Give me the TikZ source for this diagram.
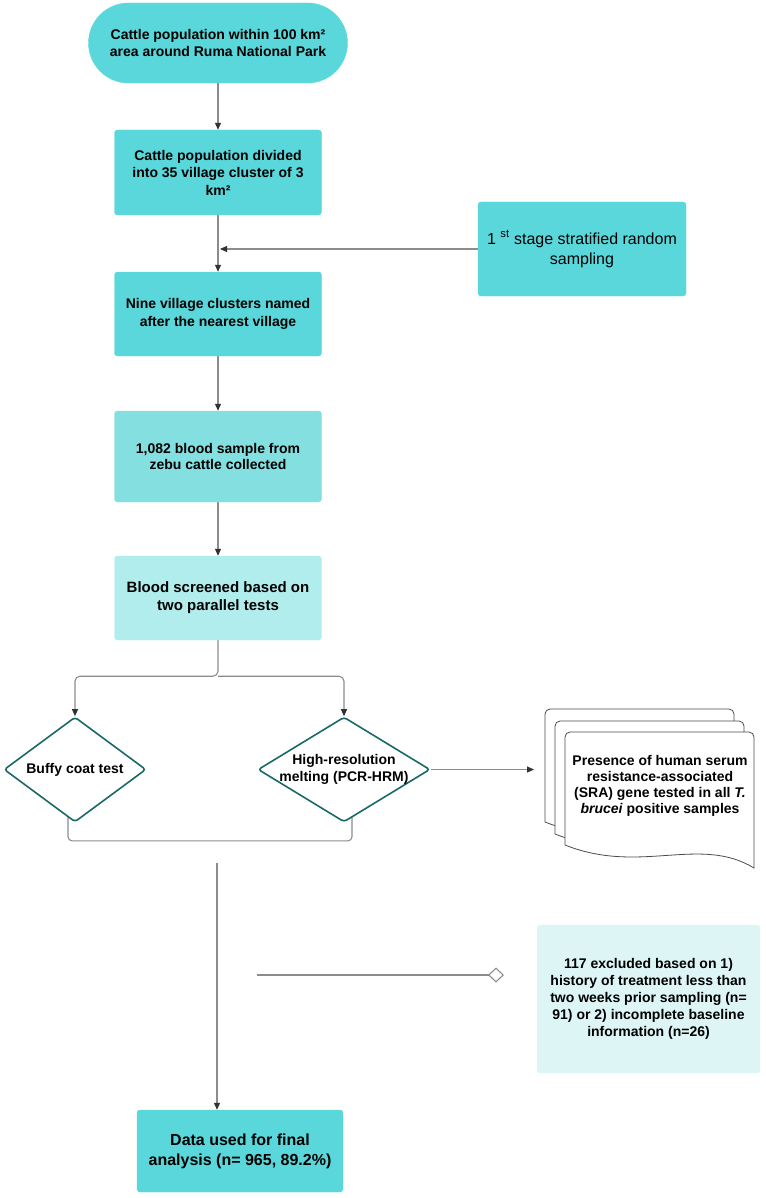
\documentclass[tikz,border=0pt]{standalone}
\usepackage{fontspec}
\setmainfont{Liberation Sans}
\usetikzlibrary{shapes.geometric,arrows.meta,calc,backgrounds}
\definecolor{tealA}{RGB}{90,215,218}
\definecolor{tealB}{RGB}{132,224,224}
\definecolor{tealC}{RGB}{178,237,237}
\definecolor{tealD}{RGB}{221,245,245}
\definecolor{dteal}{RGB}{25,105,105}
\definecolor{linegray}{RGB}{140,140,140}
\definecolor{tipgray}{RGB}{50,50,50}
\begin{document}
\begin{tikzpicture}[x=1pt,y=-1pt,
  conn/.style={draw=linegray, line width=1.1pt},
  arr/.style={conn, -{Triangle[length=7pt,width=6pt,color=tipgray]}},
  box/.style={rectangle, rounded corners=3pt, fill=tealA, draw=tealA, align=center,
    font=\bfseries\fontsize{14}{17.5}\selectfont, inner sep=3pt, anchor=center},
  dia/.style={diamond, draw=dteal, line width=1.6pt, fill=white, rounded corners=3pt,
    inner sep=0pt, anchor=center},
  dialabel/.style={label={[align=center, font=\bfseries\fontsize{14}{17}\selectfont]center:#1}},
  docpage/.style={draw=black!70, line width=0.8pt, fill=white},
]
\useasboundingbox (0,0) rectangle (765,1198);

\node[box, rounded corners=40pt, minimum width=259pt, minimum height=80pt] (top) at (218,43)
  {Cattle population within 100 km²\\area around Ruma National Park};
\node[box, minimum width=207pt, minimum height=85pt] (b2) at (218,172.5)
  {Cattle population divided\\into 35 village cluster of 3\\km²};
\node[box, minimum width=208pt, minimum height=94pt, font=\fontsize{16}{20}\selectfont] (s1) at (582,249)
  {1 \textsuperscript{st} stage stratified random\\sampling};
\node[box, minimum width=207pt, minimum height=84pt] (b3) at (218,314)
  {Nine village clusters named\\after the nearest village};
\node[box, fill=tealB, draw=tealB, minimum width=207pt, minimum height=91pt, font=\bfseries\fontsize{14}{16.5}\selectfont] (b4) at (218,456.5)
  {1,082 blood sample from\\zebu cattle collected};
\node[box, fill=tealC, draw=tealC, minimum width=207pt, minimum height=84pt, font=\bfseries\fontsize{15}{18}\selectfont] (b5) at (218,598)
  {Blood screened based on\\two parallel tests};
\node[dia, minimum width=142pt, minimum height=105pt, dialabel={Buffy coat test}] (d1) at (75,769.5) {};
\node[dia, minimum width=172pt, minimum height=105pt, dialabel={High-resolution\\melting (PCR-HRM)}] (d2) at (344,769.5) {};
\node[box, fill=tealD, draw=tealD, minimum width=223pt, minimum height=148pt, font=\bfseries\fontsize{14}{17}\selectfont] (ex) at (648.5,999)
  {117 excluded based on 1)\\history of treatment less than\\two weeks prior sampling (n=\\91) or 2) incomplete baseline\\information (n=26)};
\node[box, minimum width=206pt, minimum height=82pt, font=\bfseries\fontsize{16}{20}\selectfont] (fin) at (240,1151)
  {Data used for final\\analysis (n= 965, 89.2\%)};

% document stack
\foreach \dx/\dy in {-20/-23,-10/-11,0/0}{
  \draw[docpage, shift={(\dx,\dy)}, rounded corners=5pt]
    (565,800) -- (565,732) -- (754,732) -- (754,800) [sharp corners] -- (754,868)
    .. controls (700,835) and (640,875) .. (565,845) -- cycle;
}
\node[align=center, font=\bfseries\fontsize{14}{16}\selectfont, anchor=center] (doc) at (660,786)
  {Presence of human serum\\resistance-associated\\(SRA) gene tested in all \textit{T.}\\\textit{brucei} positive samples};

\coordinate (docin) at (534,769.5);
\coordinate (vs) at (217,863);
\coordinate (hs) at (257,975);
\coordinate (he) at (504,975);

\begin{scope}[on background layer]
\draw[arr] (top.south) -- (b2.north);
\draw[arr] (b2.south) -- (b3.north);
\draw[arr] (s1.west) -- ($(s1.west -| b2.south)+(2,0)$);
\draw[arr] (b3.south) -- (b4.north);
\draw[arr] (b4.south) -- (b5.north);
\draw[arr, rounded corners=5pt] (b5.south) -- ++(0,36) -| (d1.north);
\draw[arr, rounded corners=5pt] ($(b5.south)+(0,36)$) -| (d2.north);
\draw[conn, rounded corners=4pt] ($(d1.south)+(-7,-10)$) -- ($(d1.south)+(-7,18)$)
  -- ($(d2.south)+(8,18)$) -- ($(d2.south)+(8,-10)$);
\end{scope}
\draw[arr] (d2.east) -- (docin);
\draw[arr] (vs) -- (vs |- fin.north);
\draw[conn, -{Diamond[open,length=16pt,width=15pt]}] (hs) -- (he);
\end{tikzpicture}
\end{document}
